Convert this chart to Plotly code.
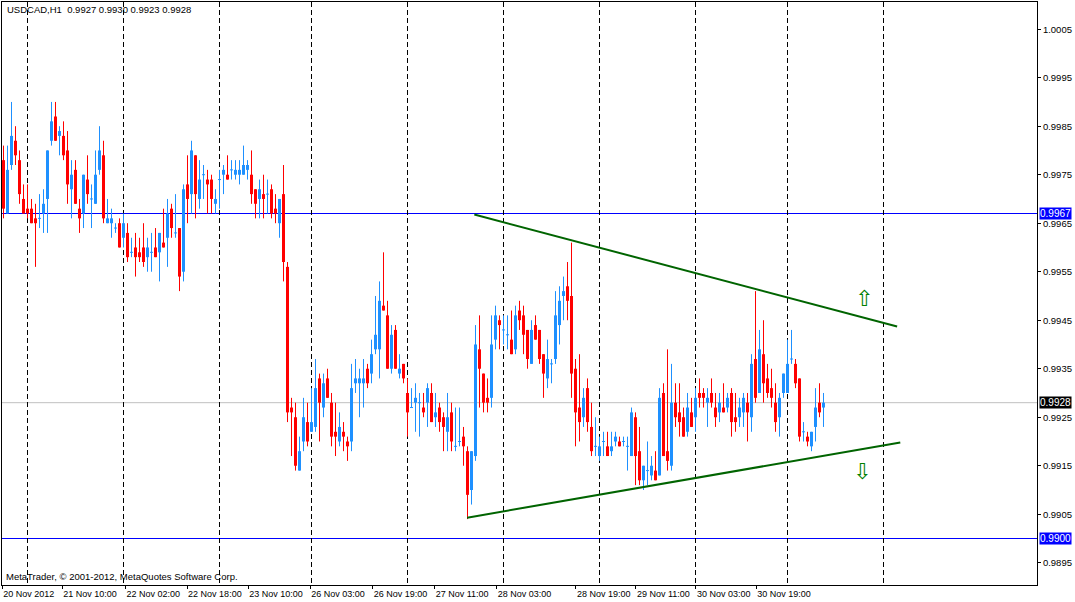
import plotly.graph_objects as go

# USDCAD H1 bars
opens = [
    .9978, .9967, .9977, .9982, .9978, .9970, .9968, .9968, .9966, .9966,
    .9967, .9970, .9982, .9987, .9983, .9983, .9980, .9972, .9976, .9968,
    .9967, .9974, .9970, .9969, .9976, .9979, .9965, .9965, .9964, .9965,
    .9962, .9963, .9959, .9960, .9959, .9960, .9958, .9959, .9960, .9959,
    .9961, .9962, .9968, .9963, .9964, .9955, .9973, .9971, .9979, .9970,
    .9975, .9974, .9974, .9969, .9974, .9975, .9975, .9976, .9975, .9975,
    .9975, .9976, .9975, .9972, .9970, .9971, .9971, .9972, .9968, .9965,
    .9971, .9956, .9927, .9925, .9914, .9920, .9924, .9922, .9923, .9933,
    .9927, .9933, .9928, .9922, .9920, .9922, .9920, .9920, .9932, .9932,
    .9932, .9935, .9934, .9939, .9939, .9948, .9946, .9935, .9943, .9934,
    .9936, .9930, .9927, .9928, .9928, .9927, .9928, .9930, .9925, .9927,
    .9925, .9922, .9926, .9919, .9920, .9921, .9918, .9910, .9917, .9939,
    .9934, .9929, .9929, .9941, .9945, .9943, .9942, .9941, .9939, .9947,
    .9946, .9943, .9936, .9944, .9943, .9938, .9933, .9936, .9937, .9944,
    .9950, .9952, .9950, .9935, .9927, .9925, .9931, .9923, .9919, .9917,
    .9920, .9919, .9918, .9920, .9920, .9920, .9919, .9917, .9925, .9918,
    .9912, .9914, .9913, .9914, .9913, .9930, .9918, .9915, .9928, .9926,
    .9925, .9922, .9926, .9925, .9930, .9930, .9928, .9930, .9927, .9926,
    .9927, .9927, .9930, .9925, .9925, .9926, .9928, .9925, .9937, .9930,
    .9938, .9933, .9931, .9928, .9925, .9930, .9930, .9937, .9936, .9933,
    .9922, .9921, .9919, .9923, .9928, .9927,
]
highs = [
    .9981, .9981, .9990, .9985, .9980, .9973, .9973, .9970, .9969, .9971,
    .9972, .9980, .9990, .9990, .9985, .9986, .9984, .9978, .9978, .9970,
    .9975, .9979, .9973, .9980, .9985, .9982, .9970, .9968, .9965, .9966,
    .9967, .9965, .9962, .9963, .9962, .9965, .9962, .9963, .9964, .9963,
    .9968, .9970, .9969, .9971, .9964, .9973, .9979, .9982, .9979, .9978,
    .9977, .9976, .9975, .9972, .9976, .9977, .9979, .9978, .9978, .9978,
    .9981, .9978, .9980, .9972, .9974, .9975, .9974, .9973, .9971, .9970,
    .9977, .9957, .9929, .9928, .9921, .9929, .9928, .9931, .9937, .9934,
    .9934, .9935, .9930, .9928, .9926, .9924, .9921, .9936, .9937, .9935,
    .9937, .9936, .9941, .9950, .9953, .9959, .9949, .9944, .9944, .9938,
    .9936, .9933, .9931, .9932, .9930, .9930, .9932, .9932, .9930, .9928,
    .9926, .9930, .9928, .9927, .9927, .9923, .9919, .9918, .9944, .9946,
    .9934, .9933, .9946, .9948, .9946, .9946, .9946, .9947, .9948, .9949,
    .9948, .9943, .9945, .9946, .9943, .9938, .9941, .9937, .9951, .9952,
    .9954, .9957, .9961, .9937, .9938, .9931, .9933, .9928, .9925, .9921,
    .9922, .9922, .9922, .9922, .9921, .9921, .9921, .9927, .9926, .9923,
    .9915, .9920, .9917, .9918, .9931, .9932, .9939, .9936, .9932, .9932,
    .9927, .9930, .9929, .9931, .9933, .9931, .9931, .9933, .9930, .9930,
    .9932, .9930, .9931, .9930, .9929, .9930, .9930, .9938, .9951, .9943,
    .9945, .9936, .9935, .9932, .9930, .9934, .9941, .9943, .9937, .9933,
    .9924, .9922, .9922, .9931, .9932, .9930,
]
lows = [
    .9966, .9967, .9976, .9977, .9969, .9967, .9966, .9965, .9956, .9964,
    .9963, .9963, .9981, .9982, .9979, .9978, .9969, .9966, .9969, .9963,
    .9964, .9969, .9964, .9969, .9975, .9965, .9965, .9962, .9963, .9960,
    .9960, .9957, .9958, .9954, .9957, .9956, .9955, .9955, .9958, .9953,
    .9960, .9956, .9962, .9962, .9951, .9953, .9965, .9967, .9966, .9968,
    .9970, .9967, .9967, .9967, .9968, .9971, .9974, .9974, .9974, .9973,
    .9975, .9974, .9969, .9966, .9966, .9966, .9967, .9966, .9965, .9962,
    .9953, .9924, .9917, .9914, .9914, .9918, .9919, .9922, .9922, .9920,
    .9925, .9929, .9919, .9917, .9919, .9918, .9916, .9918, .9930, .9925,
    .9927, .9931, .9932, .9938, .9933, .9947, .9935, .9934, .9935, .9933,
    .9932, .9921, .9927, .9922, .9921, .9925, .9923, .9924, .9923, .9922,
    .9918, .9918, .9918, .9918, .9919, .9915, .9904, .9907, .9916, .9927,
    .9926, .9926, .9927, .9939, .9939, .9940, .9939, .9938, .9938, .9943,
    .9938, .9935, .9936, .9941, .9936, .9929, .9931, .9932, .9936, .9940,
    .9945, .9945, .9929, .9919, .9920, .9923, .9922, .9917, .9917, .9916,
    .9917, .9917, .9917, .9919, .9919, .9919, .9914, .9917, .9911, .9911,
    .9910, .9911, .9912, .9912, .9913, .9917, .9914, .9914, .9923, .9921,
    .9921, .9921, .9923, .9922, .9927, .9927, .9923, .9927, .9923, .9924,
    .9926, .9926, .9921, .9922, .9923, .9923, .9920, .9922, .9928, .9930,
    .9928, .9929, .9927, .9922, .9921, .9929, .9930, .9936, .9931, .9920,
    .9920, .9919, .9918, .9920, .9925, .9923,
]
closes = [
    .9968, .9976, .9983, .9979, .9971, .9967, .9967, .9965, .9965, .9966,
    .9969, .9980, .9986, .9982, .9984, .9979, .9973, .9975, .9969, .9966,
    .9975, .9971, .9970, .9975, .9980, .9966, .9966, .9966, .9964, .9960,
    .9965, .9958, .9959, .9958, .9958, .9957, .9960, .9959, .9958, .9963,
    .9960, .9967, .9964, .9963, .9954, .9972, .9970, .9980, .9971, .9974,
    .9975, .9973, .9970, .9970, .9974, .9976, .9974, .9976, .9976, .9976,
    .9977, .9977, .9971, .9969, .9972, .9970, .9971, .9967, .9967, .9970,
    .9957, .9926, .9926, .9915, .9918, .9925, .9920, .9924, .9931, .9928,
    .9932, .9929, .9921, .9921, .9923, .9921, .9919, .9931, .9933, .9933,
    .9933, .9932, .9938, .9942, .9949, .9947, .9935, .9942, .9935, .9935,
    .9933, .9926, .9927, .9929, .9928, .9926, .9931, .9924, .9926, .9924,
    .9923, .9925, .9920, .9919, .9920, .9919, .9909, .9918, .9940, .9935,
    .9928, .9928, .9940, .9946, .9944, .9943, .9942, .9938, .9946, .9945,
    .9942, .9937, .9943, .9941, .9937, .9934, .9937, .9936, .9946, .9949,
    .9951, .9949, .9934, .9926, .9924, .9929, .9924, .9918, .9919, .9919,
    .9920, .9917, .9919, .9921, .9919, .9920, .9919, .9926, .9917, .9912,
    .9915, .9914, .9915, .9912, .9929, .9917, .9916, .9928, .9925, .9924,
    .9921, .9927, .9923, .9929, .9929, .9929, .9929, .9928, .9925, .9928,
    .9926, .9929, .9924, .9924, .9927, .9929, .9926, .9936, .9929, .9939,
    .9932, .9930, .9929, .9924, .9929, .9934, .9936, .9937, .9932, .9921,
    .9922, .9920, .9922, .9927, .9926, .9928,
]

tick_bars = [-0.3, 14.7, 30.5, 45.9, 61.2, 76.7, 92.3, 107.8, 123.3, 143.1, 158.1, 173.1, 188.2]
tick_labels = ["20 Nov 2012", "21 Nov 10:00", "22 Nov 02:00", "22 Nov 18:00", "23 Nov 10:00",
               "26 Nov 03:00", "26 Nov 19:00", "27 Nov 11:00", "28 Nov 03:00", "28 Nov 19:00",
               "29 Nov 11:00", "30 Nov 03:00", "30 Nov 19:00"]
grid_bars = [6, 30, 54, 77, 101, 125, 149, 173, 196, 220]

# horizontal levels: price, line colour, label box colour
levels = [0.9967, 0.9928, 0.9900]
level_colors = ["#0000FF", "#C0C0C0", "#0000FF"]
level_boxes = ["#0000FF", "#000000", "#0000FF"]

# triangle trendlines (bar index, price)
upper_x = [117.7, 223.4]
upper_y = [0.99668, 0.99437]
lower_x = [115.9, 224.2]
lower_y = [0.99043, 0.99198]

BULL = "#1E90FF"
BEAR = "#FF0000"
FONT = "Liberation Sans"

idx = list(range(len(opens)))

fig = go.Figure()

# wicks
for want, color in ((1, BULL), (-1, BEAR)):
    wx, wy = [], []
    for i in idx:
        d = closes[i] - opens[i]
        side = 1 if d >= 0 else -1
        if side != want:
            continue
        wx += [i, i, None]
        wy += [lows[i], highs[i], None]
    fig.add_trace(go.Scatter(x=wx, y=wy, mode="lines", line=dict(color=color, width=1),
                             hoverinfo="skip", showlegend=False))

# bodies
for want, color in ((1, BULL), (-1, BEAR)):
    bx = [i for i in idx if (closes[i] - opens[i]) * want > 1e-9]
    fig.add_trace(go.Bar(
        x=bx,
        y=[abs(closes[i] - opens[i]) for i in bx],
        base=[min(opens[i], closes[i]) for i in bx],
        width=0.75, marker=dict(color=color, line=dict(width=0)),
        hoverinfo="skip", showlegend=False))

# doji ticks
dx, dy = [], []
for i in idx:
    if abs(closes[i] - opens[i]) < 1e-9:
        dx += [i - 0.375, i + 0.375, None]
        dy += [opens[i], opens[i], None]
fig.add_trace(go.Scatter(x=dx, y=dy, mode="lines", line=dict(color=BULL, width=1),
                         hoverinfo="skip", showlegend=False))

# trendlines
for tx, ty in ((upper_x, upper_y), (lower_x, lower_y)):
    fig.add_trace(go.Scatter(x=tx, y=ty, mode="lines", line=dict(color="#006400", width=2),
                             hoverinfo="skip", showlegend=False))

for lv, lc, bc in zip(levels, level_colors, level_boxes):
    fig.add_shape(type="line", xref="paper", x0=0, x1=1, yref="y", y0=lv, y1=lv,
                  line=dict(color=lc, width=1), layer="below")
    fig.add_annotation(xref="paper", x=1, xanchor="left", xshift=2, yref="y", y=lv,
                       text=f"{lv:.4f}", showarrow=False, bgcolor=bc, borderpad=0,
                       font=dict(family=FONT, size=10, color="white"))

fig.add_annotation(x=215.2, y=0.99495, text="⇧", showarrow=False,
                   font=dict(family="DejaVu Sans", size=22, color="#008000"))
fig.add_annotation(x=214.7, y=0.99138, text="⇩", showarrow=False,
                   font=dict(family="DejaVu Sans", size=22, color="#008000"))

fig.add_annotation(xref="paper", yref="paper", x=0.003, y=0.9995, xanchor="left", yanchor="top",
                   text="USDCAD,H1  0.9927 0.9930 0.9923 0.9928", showarrow=False,
                   font=dict(family=FONT, size=9.5, color="black"))
fig.add_annotation(xref="paper", yref="paper", x=0.002, y=0.0, xanchor="left", yanchor="bottom",
                   yshift=1, text="MetaTrader, © 2001-2012, MetaQuotes Software Corp.",
                   showarrow=False, font=dict(family=FONT, size=9.5, color="black"))

fig.update_layout(
    width=1075, height=602,
    margin=dict(l=2, r=38, t=2, b=17, autoexpand=False),
    paper_bgcolor="white", plot_bgcolor="white",
    barmode="overlay", showlegend=False, hovermode=False,
    font=dict(family=FONT, size=9, color="black"),
    xaxis=dict(
        range=[-0.375, 258.375], showline=True, mirror=True, linecolor="black", linewidth=1,
        showgrid=False, zeroline=False, automargin=False, tickangle=0,
        tickmode="array", tickvals=tick_bars, ticktext=tick_labels,
        ticks="outside", ticklen=3, tickcolor="black",
        ticklabelposition="outside right", tickfont=dict(family=FONT, size=9),
        minor=dict(tickmode="array", tickvals=grid_bars, showgrid=True, gridcolor="black",
                   griddash="5px,3px", gridwidth=1, ticks=""),
    ),
    yaxis=dict(
        # range chosen so the two blue levels fall on pixel centres
        range=[0.9890414, 1.0010605], side="right", showline=True, mirror=True,
        linecolor="black", linewidth=1, showgrid=False, zeroline=False, automargin=False,
        tick0=0.9895, dtick=0.001, tickformat=".4f",
        ticks="outside", ticklen=3, tickcolor="black", tickfont=dict(family=FONT, size=9.5),
    ),
)

# the page gets the browser's default 8px body margin; drop it so the figure fills the window
fig.write_html("out.html", config={"displayModeBar": False},
               post_script="document.body.style.margin='0';document.body.style.overflow='hidden';")
